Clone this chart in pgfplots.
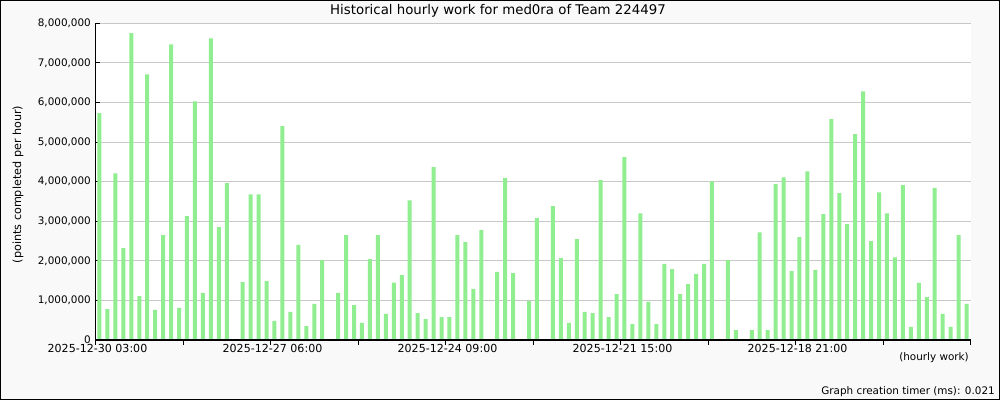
\documentclass[border=0pt]{standalone}
\usepackage{pgfplots}
\pgfplotsset{compat=1.18}
\usepackage{fontspec}
\setmainfont{DejaVu Sans}
\definecolor{barg}{HTML}{90EE90}
\definecolor{bgc}{HTML}{F9F9F9}
\definecolor{gridc}{HTML}{C8C8C8}
\begin{document}
\begin{tikzpicture}[x=0.75pt,y=0.75pt]
\path[use as bounding box] (0,0) rectangle (1000,400);
\fill[bgc] (0,0) rectangle (1000,400);
\draw[black, line width=0.9pt] (0.5,0.5) rectangle (999.5,399.5);
\begin{axis}[
  at={(71.625pt,45pt)}, anchor=south west,
  scale only axis, width=656.25pt, height=237.5pt,
  xmin=-0.5, xmax=109.5, ymin=0, ymax=8000000,
  axis background/.style={fill=white},
  axis lines*=left,
  axis line style={black, line width=0.75pt},
  tick align=inside,
  major tick length=3.5pt,
  tick style={black, line width=0.75pt},
  ymajorgrids, grid style={gridc, line width=0.75pt},
  scaled y ticks=false,
  xtick={-0.5,10.5,21.5,32.5,43.5,54.5,65.5,76.5,87.5,98.5,109.5},
  xticklabels={2025-12-30 03:00,,2025-12-27 06:00,,2025-12-24 09:00,,2025-12-21 15:00,,2025-12-18 21:00,,},
  ytick={0,1000000,2000000,3000000,4000000,5000000,6000000,7000000,8000000},
  yticklabels={0,{1,000,000},{2,000,000},{3,000,000},{4,000,000},{5,000,000},{6,000,000},{7,000,000},{8,000,000}},
  xticklabel style={font=\fontsize{8.3}{10}\selectfont, yshift=3.5pt, xshift=1.5pt},
  yticklabel style={font=\fontsize{7.8}{9}\selectfont},
  ybar, bar width=3pt, bar shift=0pt,
]
\addplot[draw=none, fill=barg] coordinates {
(0,5730000) (1,780000) (2,4210000) (3,2320000) (4,7750000) (5,1110000) (6,6710000) (7,760000) (8,2650000) (9,7470000)
(10,810000) (11,3130000) (12,6030000) (13,1190000) (14,7620000) (15,2850000) (16,3960000) (18,1460000) (19,3680000)
(20,3680000) (21,1490000) (22,480000) (23,5400000) (24,710000) (25,2400000) (26,350000) (27,910000) (28,2020000)
(30,1190000) (31,2650000) (32,880000) (33,430000) (34,2040000) (35,2650000) (36,660000) (37,1450000) (38,1640000) (39,3530000)
(40,680000) (41,530000) (42,4370000) (43,580000) (44,580000) (45,2650000) (46,2470000) (47,1290000) (48,2780000)
(50,1720000) (51,4090000) (52,1690000) (54,990000) (55,3080000) (57,3380000) (58,2070000) (59,430000)
(60,2550000) (61,710000) (62,680000) (63,4040000) (64,580000) (65,1160000) (66,4620000) (67,400000) (68,3200000) (69,960000)
(70,400000) (71,1920000) (72,1790000) (73,1160000) (74,1410000) (75,1670000) (76,1920000) (77,4010000) (79,2020000)
(80,250000) (82,250000) (83,2720000) (84,250000) (85,3940000) (86,4110000) (87,1740000) (88,2600000) (89,4260000)
(90,1770000) (91,3180000) (92,5580000) (93,3710000) (94,2930000) (95,5200000) (96,6280000) (97,2500000) (98,3730000) (99,3200000)
(100,2090000) (101,3910000) (102,330000) (103,1440000) (104,1080000) (105,3840000) (106,660000) (107,330000) (108,2650000) (109,910000)
};
\draw[black, line width=0.75pt] (axis cs:-0.5,0) -- (axis cs:109.5,0);
\end{axis}
\node[font=\fontsize{10}{12}\selectfont] at (498,389.5) {Historical hourly work for med0ra of Team 224497};
\node[font=\fontsize{8.4}{10}\selectfont, rotate=90] at (18,215.5) {(points completed per hour)};
\node[font=\fontsize{7.8}{9}\selectfont, anchor=east, inner sep=0pt] at (969,42) {(hourly work)};
\node[font=\fontsize{7.8}{9}\selectfont, anchor=east, inner sep=0pt] at (995,8) {Graph creation timer (ms): 0.021};
\end{tikzpicture}
\end{document}
